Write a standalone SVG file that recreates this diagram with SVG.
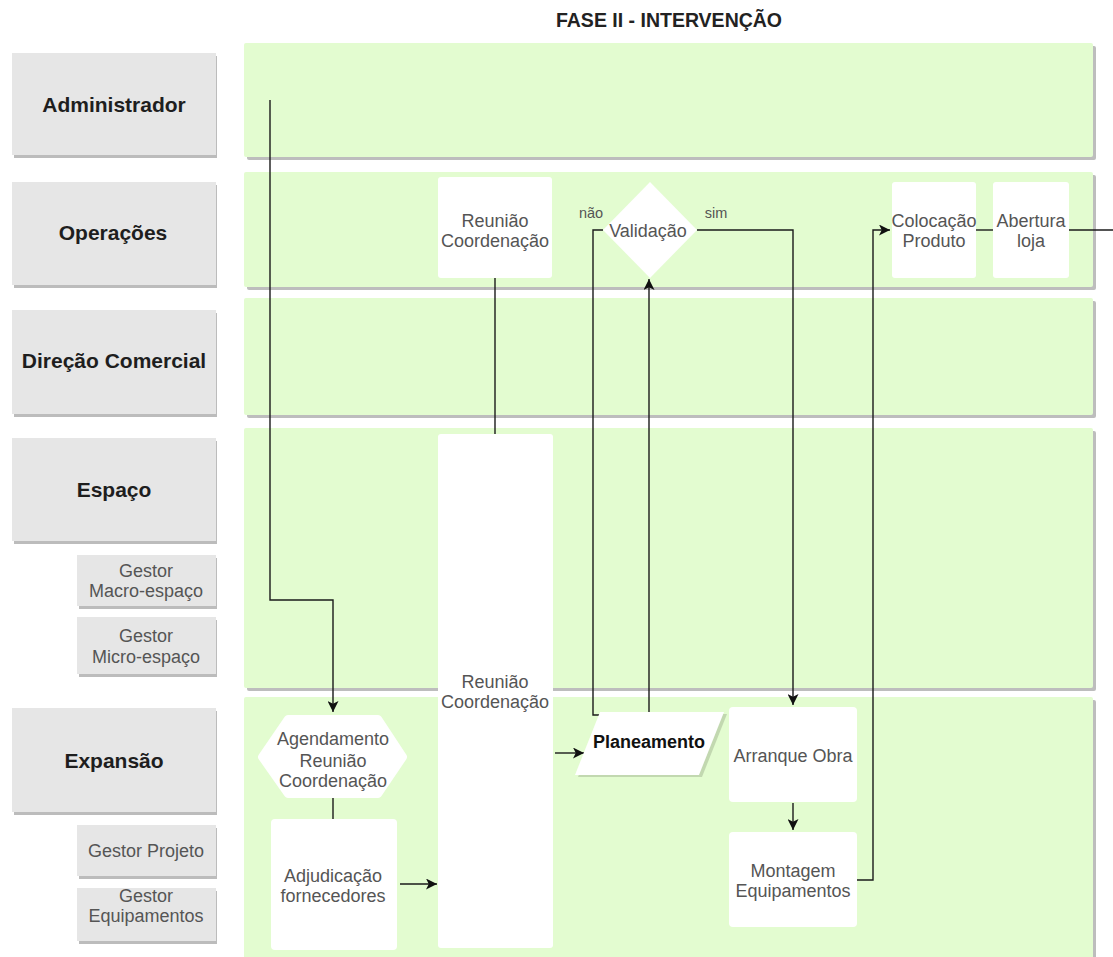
<svg xmlns="http://www.w3.org/2000/svg" width="1113" height="957" viewBox="0 0 1113 957">
  <defs>
    <marker id="arrow" viewBox="0 0 10 10" refX="10" refY="5" markerWidth="11" markerHeight="11" markerUnits="userSpaceOnUse" orient="auto">
      <path d="M0,0 L10,5 L0,10 L2.5,5 Z" fill="#111"/>
    </marker>
    <style>
      .lane { fill: #e3fcd0; }
      .lane-shadow { fill: #bdbdbd; }
      .role { fill: #e6e6e6; }
      .role-shadow { fill: #bcbcbc; }
      .role-main { font-family: "Liberation Sans", Arial, sans-serif; font-size: 21px; font-weight: bold; fill: #1e1e1e; text-anchor: middle; }
      .role-sub { font-family: "Liberation Sans", Arial, sans-serif; font-size: 18px; fill: #555; text-anchor: middle; }
      .box { fill: #ffffff; }
      .label { font-family: "Liberation Sans", Arial, sans-serif; font-size: 18px; fill: #555; text-anchor: middle; }
      .label-bold { font-family: "Liberation Sans", Arial, sans-serif; font-size: 18px; font-weight: bold; fill: #111; text-anchor: middle; }
      .edge-label { font-family: "Liberation Sans", Arial, sans-serif; font-size: 14.5px; fill: #555; text-anchor: middle; }
      .edge { fill: none; stroke: #1a1a1a; stroke-width: 1.4; }
      .title { font-family: "Liberation Sans", Arial, sans-serif; font-size: 19.5px; font-weight: bold; fill: #222; text-anchor: middle; }
    </style>
  </defs>

  <rect width="1113" height="957" fill="#ffffff"/>

  <text class="title" x="669" y="27">FASE II - INTERVENÇÃO</text>

  <!-- swimlanes -->
  <g id="lanes">
    <rect class="lane-shadow" x="247" y="46" width="849" height="114" rx="2"/>
    <rect class="lane" x="244" y="43" width="849" height="114" rx="2"/>
    <rect class="lane-shadow" x="247" y="175" width="849" height="115" rx="2"/>
    <rect class="lane" x="244" y="172" width="849" height="115" rx="2"/>
    <rect class="lane-shadow" x="247" y="301" width="849" height="117" rx="2"/>
    <rect class="lane" x="244" y="298" width="849" height="117" rx="2"/>
    <rect class="lane-shadow" x="247" y="431" width="849" height="260" rx="2"/>
    <rect class="lane" x="244" y="428" width="849" height="260" rx="2"/>
    <rect class="lane-shadow" x="247" y="700" width="849" height="262" rx="2"/>
    <rect class="lane" x="244" y="697" width="849" height="262" rx="2"/>
  </g>

  <!-- role headers -->
  <g id="role-administrador">
    <rect class="role-shadow" x="14" y="56" width="203" height="102"/>
    <rect class="role" x="12" y="53" width="204" height="102"/>
    <text class="role-main" x="114" y="112">Administrador</text>
  </g>
  <g id="role-operacoes">
    <rect class="role-shadow" x="14" y="185" width="203" height="103"/>
    <rect class="role" x="12" y="182" width="204" height="103"/>
    <text class="role-main" x="113" y="240">Operações</text>
  </g>
  <g id="role-direcao-comercial">
    <rect class="role-shadow" x="14" y="313" width="203" height="104"/>
    <rect class="role" x="12" y="310" width="204" height="104"/>
    <text class="role-main" x="114" y="368">Direção Comercial</text>
  </g>
  <g id="role-espaco">
    <rect class="role-shadow" x="14" y="441" width="203" height="103"/>
    <rect class="role" x="12" y="438" width="204" height="103"/>
    <text class="role-main" x="114" y="497">Espaço</text>
  </g>
  <g id="role-gestor-macro">
    <rect class="role-shadow" x="79" y="558" width="138" height="51"/>
    <rect class="role" x="77" y="555" width="139" height="51"/>
    <text class="role-sub" x="146" y="577">Gestor</text>
    <text class="role-sub" x="146" y="597">Macro-espaço</text>
  </g>
  <g id="role-gestor-micro">
    <rect class="role-shadow" x="79" y="620" width="138" height="57"/>
    <rect class="role" x="77" y="617" width="139" height="57"/>
    <text class="role-sub" x="146" y="642">Gestor</text>
    <text class="role-sub" x="146" y="663">Micro-espaço</text>
  </g>
  <g id="role-expansao">
    <rect class="role-shadow" x="14" y="711" width="203" height="104"/>
    <rect class="role" x="12" y="708" width="204" height="104"/>
    <text class="role-main" x="114" y="768">Expansão</text>
  </g>
  <g id="role-gestor-projeto">
    <rect class="role-shadow" x="79" y="828" width="138" height="51"/>
    <rect class="role" x="77" y="825" width="139" height="51"/>
    <text class="role-sub" x="146" y="857">Gestor Projeto</text>
  </g>
  <g id="role-gestor-equipamentos">
    <rect class="role-shadow" x="79" y="891" width="138" height="53"/>
    <rect class="role" x="77" y="888" width="139" height="53"/>
    <text class="role-sub" x="146" y="902">Gestor</text>
    <text class="role-sub" x="146" y="922">Equipamentos</text>
  </g>

  <!-- connectors -->
  <g id="connectors">
    <polyline class="edge" points="270,100 270,600 333,600 333,712" marker-end="url(#arrow)"/>
    <line class="edge" x1="495" y1="278" x2="495" y2="434"/>
    <line class="edge" x1="333" y1="792" x2="333" y2="828"/>
    <line class="edge" x1="400" y1="884" x2="437" y2="884" marker-end="url(#arrow)"/>
    <line class="edge" x1="555" y1="753" x2="584" y2="753" marker-end="url(#arrow)"/>
    <line class="edge" x1="649" y1="712" x2="649" y2="279" marker-end="url(#arrow)"/>
    <polyline class="edge" points="603,230 593,230 593,715 601,715"/>
    <polyline class="edge" points="697,230 793,230 793,705" marker-end="url(#arrow)"/>
    <line class="edge" x1="793" y1="803" x2="793" y2="830" marker-end="url(#arrow)"/>
    <polyline class="edge" points="857,880 873,880 873,230 890,230" marker-end="url(#arrow)"/>
    <line class="edge" x1="976" y1="230" x2="993" y2="230"/>
    <line class="edge" x1="1069" y1="230" x2="1113" y2="230"/>
    <text class="edge-label" x="591" y="218">não</text>
    <text class="edge-label" x="716" y="218">sim</text>
  </g>

  <!-- process nodes -->
  <g id="node-reuniao-operacoes">
    <rect class="box" x="438" y="177" width="114" height="101" rx="3"/>
    <text class="label" x="495" y="227">Reunião</text>
    <text class="label" x="495" y="247">Coordenação</text>
  </g>
  <g id="node-validacao">
    <polygon class="box" points="650,182 697,230 650,278 603,230"/>
    <text class="label" x="648" y="237">Validação</text>
  </g>
  <g id="node-colocacao">
    <rect class="box" x="892" y="182" width="84" height="96" rx="3"/>
    <text class="label" x="934" y="227">Colocação</text>
    <text class="label" x="934" y="247">Produto</text>
  </g>
  <g id="node-abertura">
    <rect class="box" x="993" y="182" width="76" height="96" rx="3"/>
    <text class="label" x="1031" y="227">Abertura</text>
    <text class="label" x="1031" y="247">loja</text>
  </g>
  <g id="node-reuniao-coordenacao">
    <rect class="box" x="438" y="434" width="115" height="514" rx="3"/>
    <text class="label" x="495" y="688">Reunião</text>
    <text class="label" x="495" y="708">Coordenação</text>
  </g>
  <g id="node-agendamento">
    <polygon class="box" points="262,757 288,719 378,719 403,757 378,794 288,794" stroke="#ffffff" stroke-width="8" stroke-linejoin="round"/>
    <text class="label" x="333" y="745">Agendamento</text>
    <text class="label" x="333" y="767">Reunião</text>
    <text class="label" x="333" y="787">Coordenação</text>
  </g>
  <g id="node-adjudicacao">
    <rect class="box" x="271" y="819" width="126" height="131" rx="4"/>
    <text class="label" x="333" y="882">Adjudicação</text>
    <text class="label" x="333" y="902">fornecedores</text>
  </g>
  <g id="node-planeamento">
    <polygon points="578,777 603,714 727,714 702,777" fill="#c2d8b0"/>
    <polygon class="box" points="575,775 600,712 724,712 699,775"/>
    <text class="label-bold" x="649" y="748">Planeamento</text>
  </g>
  <g id="node-arranque">
    <rect class="box" x="729" y="707" width="128" height="95" rx="4"/>
    <text class="label" x="793" y="762">Arranque Obra</text>
  </g>
  <g id="node-montagem">
    <rect class="box" x="729" y="832" width="128" height="95" rx="4"/>
    <text class="label" x="793" y="877">Montagem</text>
    <text class="label" x="793" y="897">Equipamentos</text>
  </g>
</svg>
